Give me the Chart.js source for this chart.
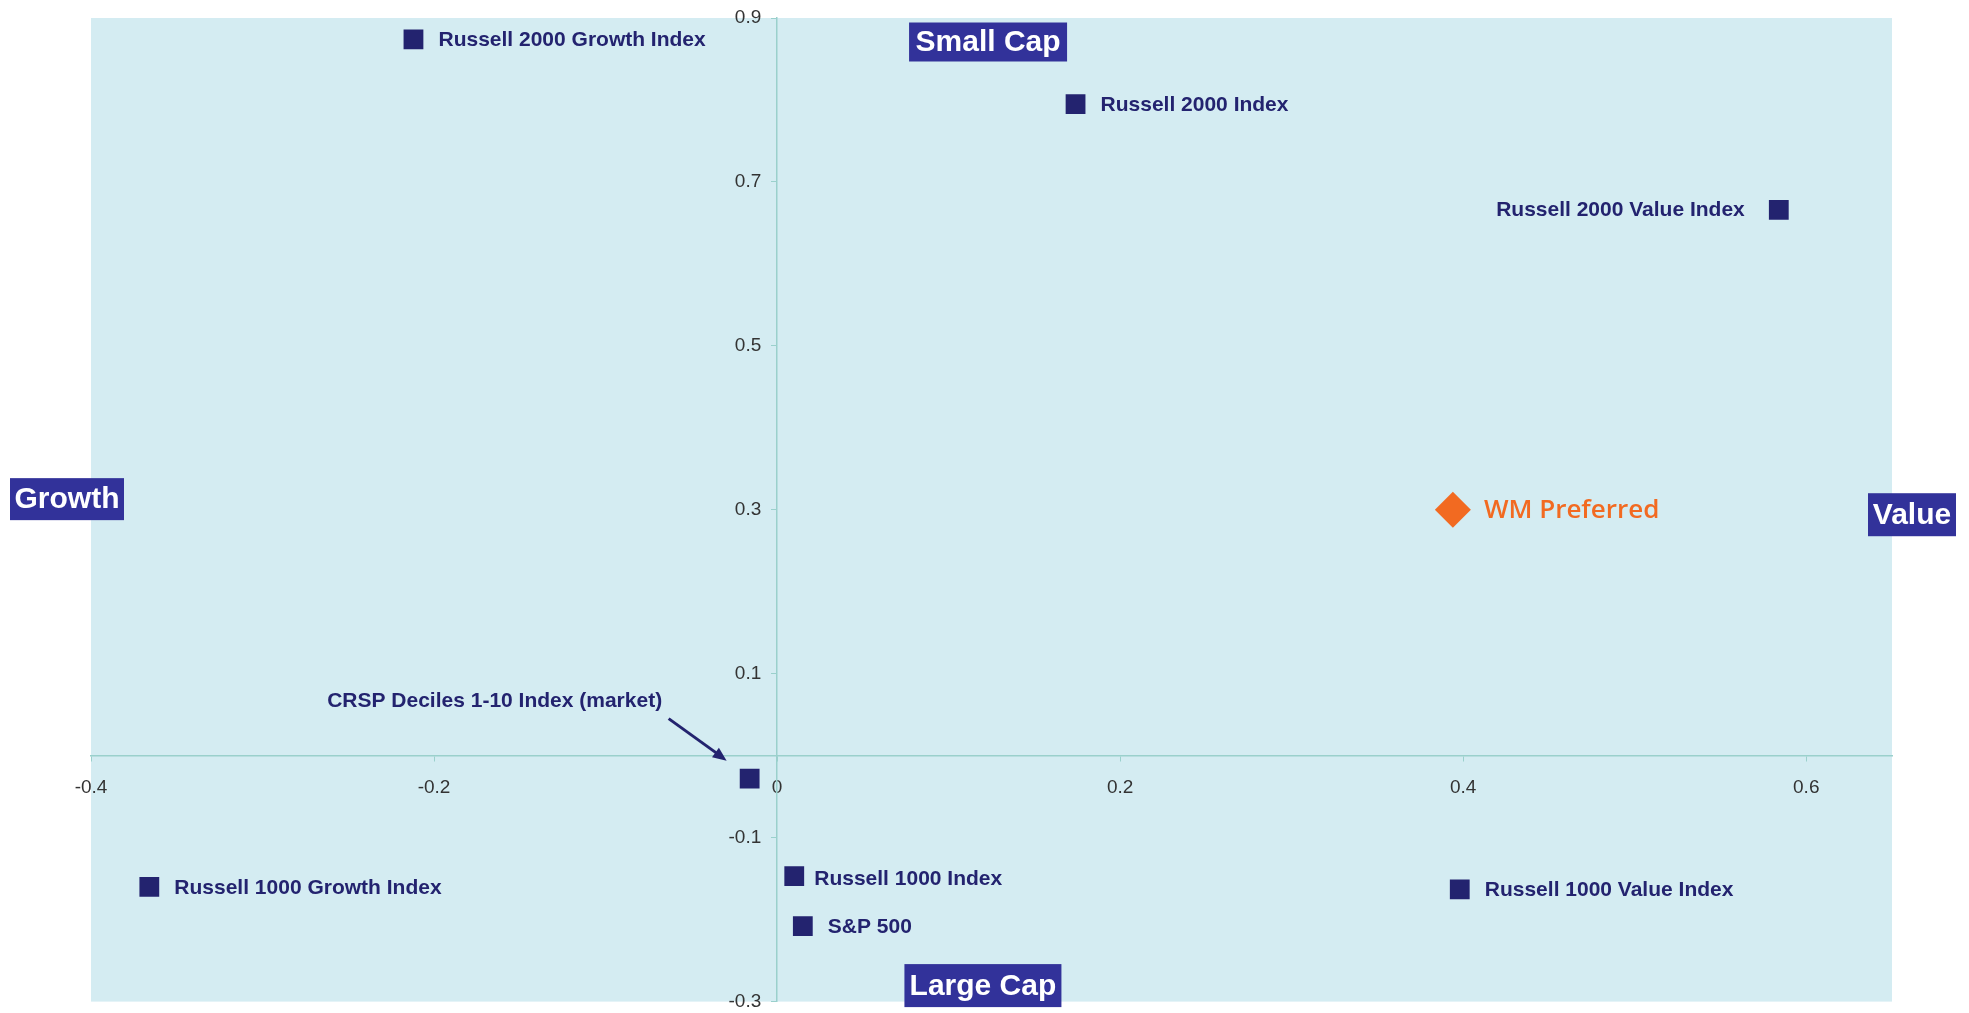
<!DOCTYPE html>
<html>
<head>
<meta charset="utf-8">
<script src="https://cdn.jsdelivr.net/npm/chart.js@4.4.0/dist/chart.umd.min.js"></script>
<style>
  html, body { margin: 0; padding: 0; background: #fff; }
  #wrap { width: 1969px; height: 1013px; }
</style>
</head>
<body>
<div id="wrap"><canvas id="styleChart" width="1969" height="1013"></canvas></div>
<script>
// Style map data (x = growth/value, y = large/small cap)
const indexNames = [
  'Russell 2000 Growth Index',
  'Russell 2000 Index',
  'Russell 2000 Value Index',
  'CRSP Deciles 1-10 Index (market)',
  'Russell 1000 Growth Index',
  'Russell 1000 Index',
  'S&P 500',
  'Russell 1000 Value Index'
];
const indexX = [-0.212, 0.174, 0.584, -0.016, -0.366, 0.010, 0.015, 0.398];
const indexY = [0.874, 0.795, 0.666, -0.028, -0.160, -0.147, -0.208, -0.163];

const wmName = 'WM Preferred';
const wmX = [0.394];
const wmY = [0.300];

const xTicks = [-0.4, -0.2, 0, 0.2, 0.4, 0.6];
const yTicks = [-0.3, -0.1, 0.1, 0.3, 0.5, 0.7, 0.9];

const navy = '#23236f';
const tagBlue = '#32329a';
const orange = '#f26a21';
const axisTeal = '#9ad0cc';

// where each label sits relative to its marker
const labelPlacement = {
  'Russell 2000 Value Index': { dx: -34, dy: 0, align: 'right' },
  'Russell 1000 Index': { dx: 20, dy: 3, align: 'left' },
  'CRSP Deciles 1-10 Index (market)': { dx: -255, dy: -77, align: 'center', arrow: true }
};

const ctx = document.getElementById('styleChart').getContext('2d');

// light blue plot background
const plotBackground = {
  id: 'plotBackground',
  beforeDraw(chart) {
    const { ctx, chartArea: a } = chart;
    ctx.save();
    ctx.fillStyle = '#d4ecf2';
    ctx.fillRect(a.left, a.top, a.right - a.left, a.bottom - a.top);
    ctx.restore();
  }
};

function drawTag(c, text, cx, cy, w, h) {
  c.fillStyle = tagBlue;
  c.fillRect(cx - w / 2, cy - h / 2, w, h);
  c.fillStyle = '#ffffff';
  c.font = 'bold 30px "Liberation Sans", Arial, sans-serif';
  c.textAlign = 'center';
  c.textBaseline = 'middle';
  c.fillText(text, cx, cy + 1);
}

// point labels, arrow and the four corner tags
const annotations = {
  id: 'annotations',
  afterDatasetsDraw(chart) {
    const c = chart.ctx;
    const a = chart.chartArea;
    const xs = chart.scales.x;
    const ys = chart.scales.y;
    c.save();

    const pts = chart.getDatasetMeta(0).data;
    c.font = 'bold 21px "Liberation Sans", Arial, sans-serif';
    c.fillStyle = navy;
    c.textBaseline = 'middle';
    indexNames.forEach((name, i) => {
      const p = pts[i];
      const pl = labelPlacement[name] || { dx: 25, dy: 1, align: 'left' };
      c.textAlign = pl.align;
      c.fillText(name, p.x + pl.dx, p.y + pl.dy);
      if (pl.arrow) {
        const sx = p.x - 81, sy = p.y - 60;
        const ex = p.x - 23, ey = p.y - 18;
        c.strokeStyle = navy;
        c.lineWidth = 3;
        c.beginPath();
        c.moveTo(sx, sy);
        c.lineTo(ex - 8, ey - 6);
        c.stroke();
        const ang = Math.atan2(ey - sy, ex - sx);
        c.beginPath();
        c.moveTo(ex, ey);
        c.lineTo(ex - 15 * Math.cos(ang - 0.4), ey - 15 * Math.sin(ang - 0.4));
        c.lineTo(ex - 15 * Math.cos(ang + 0.4), ey - 15 * Math.sin(ang + 0.4));
        c.closePath();
        c.fill();
      }
    });

    const wm = chart.getDatasetMeta(1).data[0];
    c.font = '600 26px "Open Sans", sans-serif';
    c.fillStyle = orange;
    c.textAlign = 'left';
    c.fillText(wmName, wm.x + 31, wm.y + 1);

    drawTag(c, 'Small Cap', xs.getPixelForValue(0.123), a.top + 24, 158, 39);
    drawTag(c, 'Large Cap', xs.getPixelForValue(0.12), a.bottom - 16, 157, 43);
    drawTag(c, 'Growth', a.left - 24, ys.getPixelForValue(0.313), 114, 42);
    drawTag(c, 'Value', a.right + 20, ys.getPixelForValue(0.294), 88, 43);
    c.restore();
  }
};

const styleChart = new Chart(ctx, {
  type: 'scatter',
  data: {
    datasets: [{
      label: 'Indexes',
      data: indexX.map((x, i) => ({ x: x, y: indexY[i] })),
      pointStyle: 'rect',
      pointRadius: 14,
      pointHoverRadius: 14,
      backgroundColor: navy,
      borderColor: navy,
      borderWidth: 0
    }, {
      label: wmName,
      data: wmX.map((x, i) => ({ x: x, y: wmY[i] })),
      pointStyle: 'rectRot',
      pointRadius: 18,
      pointHoverRadius: 18,
      backgroundColor: orange,
      borderColor: orange,
      borderWidth: 0
    }]
  },
  options: {
    responsive: false,
    animation: false,
    layout: { autoPadding: false, padding: { left: 91, right: 77, top: 18, bottom: 11 } },
    plugins: {
      legend: { display: false },
      tooltip: { enabled: false }
    },
    scales: {
      x: {
        type: 'linear',
        min: -0.4,
        max: 0.65,
        position: { y: 0 },
        afterBuildTicks: (scale) => { scale.ticks = xTicks.map(v => ({ value: v })); },
        grid: { drawOnChartArea: false, drawTicks: true, tickLength: 5, color: axisTeal },
        border: { color: axisTeal, width: 1.5 },
        ticks: {
          color: '#333333',
          font: { family: '"Liberation Sans", Arial, sans-serif', size: 19 },
          padding: 16,
          maxRotation: 0,
          callback: (v) => String(v)
        }
      },
      y: {
        type: 'linear',
        min: -0.3,
        max: 0.9,
        position: { x: 0 },
        afterBuildTicks: (scale) => { scale.ticks = yTicks.map(v => ({ value: v })); },
        grid: { drawOnChartArea: false, drawTicks: true, tickLength: 5, color: axisTeal },
        border: { color: axisTeal, width: 1.5 },
        ticks: {
          color: '#333333',
          font: { family: '"Liberation Sans", Arial, sans-serif', size: 19 },
          padding: 0,
          // centred axes ignore padding sideways, so trailing spaces keep the gap
          callback: (v) => String(v) + '   '
        }
      }
    }
  },
  plugins: [plotBackground, annotations]
});
</script>
</body>
</html>
